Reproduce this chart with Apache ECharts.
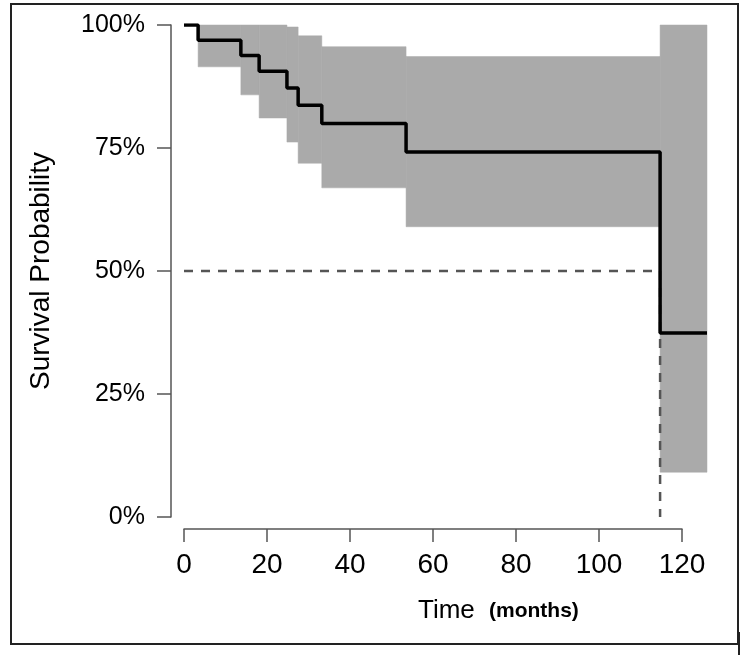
<!DOCTYPE html>
<html>
<head>
<meta charset="utf-8">
<script src="https://cdn.jsdelivr.net/npm/echarts@6.0.0/dist/echarts.min.js"></script>
<style>
  html, body { margin: 0; padding: 0; background: #fff; }
  #survivalChart { width: 750px; height: 657px; }
</style>
</head>
<body>
<div id="survivalChart"></div>
<script>
// Kaplan-Meier estimate (time in months, survival as fraction)
const kmTime = [0, 3.4, 13.7, 18.1, 24.8, 27.5, 33.2, 53.5, 114.7, 126];
const kmSurv = [1.0, 0.969, 0.938, 0.906, 0.872, 0.837, 0.80, 0.742, 0.374, 0.374];

// confidence band, one step per interval [ciTime[i], ciTime[i+1]]
const ciTime = [3.4, 13.7, 18.1, 24.8, 27.5, 33.2, 53.5, 114.7, 126];
const ciUpper = [1.0, 1.0, 1.0, 0.996, 0.978, 0.956, 0.936, 1.0];
const ciLower = [0.915, 0.858, 0.811, 0.762, 0.719, 0.669, 0.59, 0.091];

// median survival
const medianLevel = 0.5;
const medianTime = 114.7;

// axis ticks
const xTicks = [0, 20, 40, 60, 80, 100, 120];
const yTicks = [0, 0.25, 0.5, 0.75, 1];

const FONT = "'Liberation Sans', Arial, Helvetica, sans-serif";

let kmData = kmTime.map(function (t, i) { return [t, kmSurv[i]] });
let bandData = [];
for (let i = 0; i < ciLower.length; i++) {
  bandData.push([ciTime[i], ciTime[i + 1], ciLower[i], ciUpper[i]]);
}
let medianData = [[0, medianLevel], [medianTime, medianLevel], [medianTime, 0]];

let myChart = echarts.init(document.getElementById('survivalChart'));
let option = {
  animation: false,
  backgroundColor: '#fff',
  grid: [
    // plotting region, time 0..126
    { left: 184, top: 25, width: 523, height: 492 },
    // region for the drawn time axis, 0..120 only
    { left: 184, top: 25, width: 498, height: 492 }
  ],
  xAxis: [
    { type: 'value', gridIndex: 0, min: 0, max: 126, show: false },
    {
      type: 'value', gridIndex: 1, min: xTicks[0], max: xTicks[xTicks.length - 1],
      interval: 20, offset: 12,
      axisLine: { show: true, onZero: false, lineStyle: { color: '#555', width: 1.5 } },
      axisTick: { show: true, length: 13, lineStyle: { color: '#555', width: 1.5 } },
      axisLabel: { fontSize: 28, color: '#000', fontFamily: FONT, margin: 22 },
      splitLine: { show: false }
    }
  ],
  yAxis: [
    {
      type: 'value', gridIndex: 0, min: yTicks[0], max: yTicks[yTicks.length - 1],
      interval: 0.25, offset: 13,
      axisLine: { show: true, onZero: false, lineStyle: { color: '#555', width: 1.5 } },
      axisTick: { show: true, length: 14, lineStyle: { color: '#555', width: 1.5 } },
      axisLabel: {
        fontSize: 25, color: '#000', fontFamily: FONT, margin: 26,
        formatter: function (v) { return Math.round(v * 100) + '%' }
      },
      splitLine: { show: false },
      name: 'Survival Probability',
      nameLocation: 'middle',
      nameGap: 116,
      nameTextStyle: { fontSize: 28, color: '#000', fontFamily: FONT }
    },
    { type: 'value', gridIndex: 1, min: 0, max: 1, show: false }
  ],
  series: [
    {
      // confidence band drawn as rectangles
      type: 'custom',
      xAxisIndex: 0,
      yAxisIndex: 0,
      data: bandData,
      encode: { x: [0, 1], y: [2, 3] },
      renderItem: function (params, api) {
        let p1 = api.coord([api.value(0), api.value(3)]);
        let p2 = api.coord([api.value(1), api.value(2)]);
        return {
          type: 'rect',
          shape: { x: p1[0], y: p1[1], width: p2[0] - p1[0], height: p2[1] - p1[1] },
          style: { fill: '#aaaaaa', stroke: '#aaaaaa', lineWidth: 0.5 }
        };
      },
      z: 1
    },
    {
      // median survival guide
      type: 'line',
      xAxisIndex: 0,
      yAxisIndex: 0,
      data: medianData,
      symbol: 'none',
      lineStyle: { color: '#555', width: 2.5, type: [9, 8] },
      z: 2
    },
    {
      type: 'line',
      xAxisIndex: 0,
      yAxisIndex: 0,
      data: kmData,
      step: 'end',
      symbol: 'none',
      lineStyle: { color: '#000', width: 3.5 },
      z: 3
    }
  ],
  graphic: [
    {
      type: 'rect',
      shape: { x: 11, y: 4, width: 727, height: 640 },
      style: { fill: 'none', stroke: '#222', lineWidth: 2 },
      silent: true
    },
    {
      type: 'line',
      shape: { x1: 739, y1: 632, x2: 739, y2: 655 },
      style: { stroke: '#222', lineWidth: 2 },
      silent: true
    },
    {
      type: 'text',
      left: 418,
      top: 598,
      style: { text: 'Time', fontSize: 26, fill: '#000', fontFamily: FONT }
    },
    {
      type: 'text',
      left: 489,
      top: 601,
      style: { text: '(months)', fontSize: 21, fontWeight: 'bold', fill: '#000', fontFamily: FONT }
    }
  ]
};
myChart.setOption(option);
</script>
</body>
</html>
